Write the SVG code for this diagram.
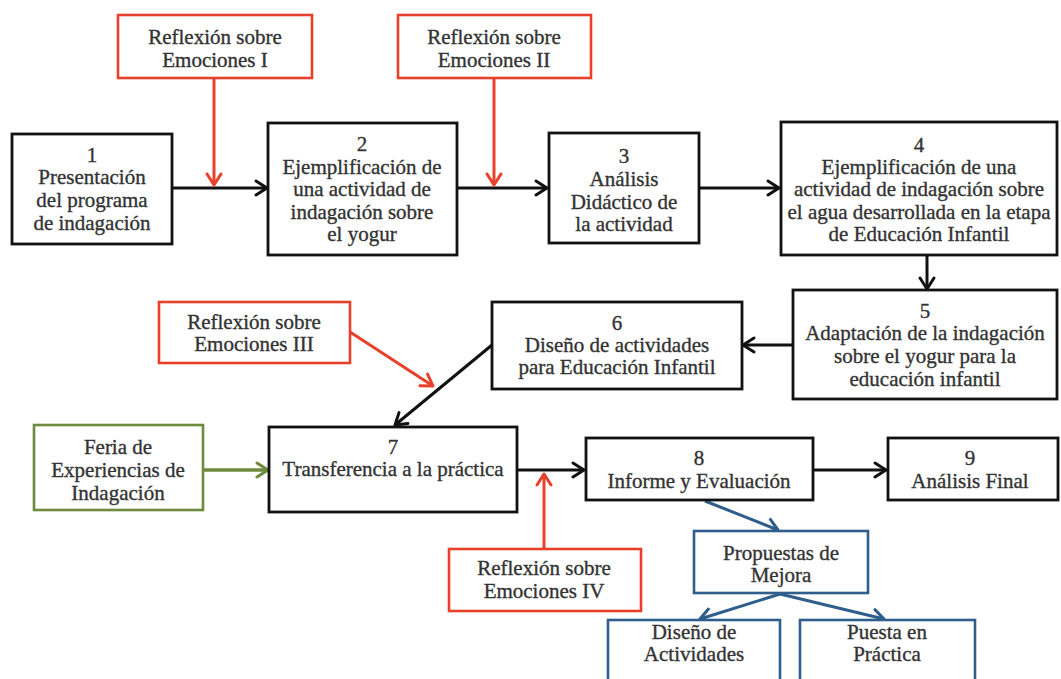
<svg xmlns="http://www.w3.org/2000/svg" width="1061" height="679" viewBox="0 0 1061 679">
<style>
text{font-family:"Liberation Serif","Times New Roman",serif;font-size:21px;fill:#333;stroke:#333;stroke-width:0.35;text-anchor:middle}
.bk{fill:#fff;stroke:#111;stroke-width:2.8}
.rd{fill:#fff;stroke:#e8402a;stroke-width:2.6}
.gr{fill:#fff;stroke:#6e8b3d;stroke-width:2.6}
.bl{fill:#fff;stroke:#2f5d8c;stroke-width:2.6}
.cb{stroke:#111;stroke-width:3;fill:none}
.cr{stroke:#e8402a;stroke-width:3;fill:none}
.cg{stroke:#6e8b3d;stroke-width:3.5;fill:none}
.cl{stroke:#2f5d8c;stroke-width:3;fill:none}
</style>
<defs>
<marker id="ab" viewBox="-2 -9 15 18" markerWidth="15" markerHeight="18" refX="11" refY="0" orient="auto" markerUnits="userSpaceOnUse"><path d="M0,-7 L11,0 L0,7" fill="none" stroke="#111" stroke-width="3" stroke-linejoin="round" stroke-linecap="round"/></marker>
<marker id="ar" viewBox="-2 -9 15 18" markerWidth="15" markerHeight="18" refX="11" refY="0" orient="auto" markerUnits="userSpaceOnUse"><path d="M0,-7 L11,0 L0,7" fill="none" stroke="#e8402a" stroke-width="3" stroke-linejoin="round" stroke-linecap="round"/></marker>
<marker id="ag" viewBox="-2 -9 15 18" markerWidth="15" markerHeight="18" refX="11" refY="0" orient="auto" markerUnits="userSpaceOnUse"><path d="M0,-7 L11,0 L0,7" fill="none" stroke="#6e8b3d" stroke-width="3" stroke-linejoin="round" stroke-linecap="round"/></marker>
<marker id="al" viewBox="-2 -9 15 18" markerWidth="15" markerHeight="18" refX="11" refY="0" orient="auto" markerUnits="userSpaceOnUse"><path d="M0,-7 L11,0 L0,7" fill="none" stroke="#2f5d8c" stroke-width="3" stroke-linejoin="round" stroke-linecap="round"/></marker>
</defs>
<rect width="1061" height="679" fill="#fff"/>

<g id="connectors">
<line class="cb" x1="172" y1="188" x2="267" y2="188" marker-end="url(#ab)"/>
<line class="cb" x1="457" y1="188" x2="547" y2="188" marker-end="url(#ab)"/>
<line class="cb" x1="699" y1="188" x2="779" y2="188" marker-end="url(#ab)"/>
<line class="cb" x1="927" y1="255" x2="927" y2="289" marker-end="url(#ab)"/>
<line class="cb" x1="793" y1="345" x2="743" y2="345" marker-end="url(#ab)"/>
<line class="cb" x1="492" y1="345" x2="395" y2="425" marker-end="url(#ab)"/>
<line class="cb" x1="517" y1="470" x2="584" y2="470" marker-end="url(#ab)"/>
<line class="cb" x1="813" y1="470" x2="886" y2="470" marker-end="url(#ab)"/>
<line class="cr" x1="214" y1="79" x2="214" y2="185" marker-end="url(#ar)"/>
<line class="cr" x1="494" y1="79" x2="494" y2="185" marker-end="url(#ar)"/>
<line class="cr" x1="350" y1="332" x2="433" y2="386" marker-end="url(#ar)"/>
<line class="cr" x1="544" y1="549" x2="544" y2="474" marker-end="url(#ar)"/>
<line class="cg" x1="203" y1="470" x2="268" y2="470" marker-end="url(#ag)"/>
<line class="cl" x1="705" y1="501" x2="778" y2="530" marker-end="url(#al)"/>
<line class="cl" x1="780" y1="594" x2="700" y2="619" marker-end="url(#al)"/>
<line class="cl" x1="780" y1="594" x2="884" y2="619" marker-end="url(#al)"/>
</g>

<g id="refl1"><rect class="rd" x="118" y="15" width="194" height="63"/><text x="215" y="44">Reflexión sobre</text><text x="215" y="67">Emociones I</text></g>
<g id="refl2"><rect class="rd" x="398" y="15" width="193" height="63"/><text x="494" y="44">Reflexión sobre</text><text x="494" y="67">Emociones II</text></g>

<g id="n1"><rect class="bk" x="12" y="134" width="160" height="110"/>
<text x="92" y="162">1</text><text x="92" y="184">Presentación</text><text x="92" y="207">del programa</text><text x="92" y="230">de indagación</text></g>

<g id="n2"><rect class="bk" x="268" y="123" width="189" height="132"/>
<text x="362" y="151">2</text><text x="362" y="174">Ejemplificación de</text><text x="362" y="196">una actividad de</text><text x="362" y="219">indagación sobre</text><text x="362" y="241">el yogur</text></g>

<g id="n3"><rect class="bk" x="549" y="133" width="150" height="110"/>
<text x="624" y="163">3</text><text x="624" y="186">Análisis</text><text x="624" y="209">Didáctico de</text><text x="624" y="231">la actividad</text></g>

<g id="n4"><rect class="bk" x="781" y="122" width="276" height="133"/>
<text x="919" y="152">4</text><text x="919" y="174">Ejemplificación de una</text><text x="919" y="196">actividad de indagación sobre</text><text x="919" y="219">el agua desarrollada en la etapa</text><text x="919" y="241">de Educación Infantil</text></g>

<g id="n5"><rect class="bk" x="793" y="290" width="264" height="109"/>
<text x="925" y="318">5</text><text x="925" y="340">Adaptación de la indagación</text><text x="925" y="363">sobre el yogur para la</text><text x="925" y="386">educación infantil</text></g>

<g id="n6"><rect class="bk" x="492" y="302" width="250" height="87"/>
<text x="617" y="330">6</text><text x="617" y="352">Diseño de actividades</text><text x="617" y="374">para Educación Infantil</text></g>

<g id="refl3"><rect class="rd" x="159" y="302" width="191" height="61"/><text x="254" y="329">Reflexión sobre</text><text x="254" y="351">Emociones III</text></g>

<g id="feria"><rect class="gr" x="34" y="425" width="169" height="85"/>
<text x="118" y="454">Feria de</text><text x="118" y="477">Experiencias de</text><text x="118" y="500">Indagación</text></g>

<g id="n7"><rect class="bk" x="269" y="427" width="248" height="85"/>
<text x="393" y="454">7</text><text x="393" y="476">Transferencia a la práctica</text></g>

<g id="n8"><rect class="bk" x="586" y="438" width="227" height="62"/>
<text x="699" y="465">8</text><text x="699" y="488">Informe y Evaluación</text></g>

<g id="n9"><rect class="bk" x="888" y="438" width="170" height="62"/>
<text x="970" y="465">9</text><text x="970" y="488">Análisis Final</text></g>

<g id="refl4"><rect class="rd" x="449" y="549" width="192" height="62"/><text x="544" y="575">Reflexión sobre</text><text x="544" y="598">Emociones IV</text></g>

<g id="propuestas"><rect class="bl" x="694" y="531" width="174" height="62"/><text x="781" y="560">Propuestas de</text><text x="781" y="582">Mejora</text></g>

<g id="diseno"><rect class="bl" x="608" y="620" width="172" height="70"/><text x="694" y="639">Diseño de</text><text x="694" y="661">Actividades</text></g>

<g id="puesta"><rect class="bl" x="800" y="620" width="175" height="70"/><text x="887" y="639">Puesta en</text><text x="887" y="661">Práctica</text></g>
</svg>
